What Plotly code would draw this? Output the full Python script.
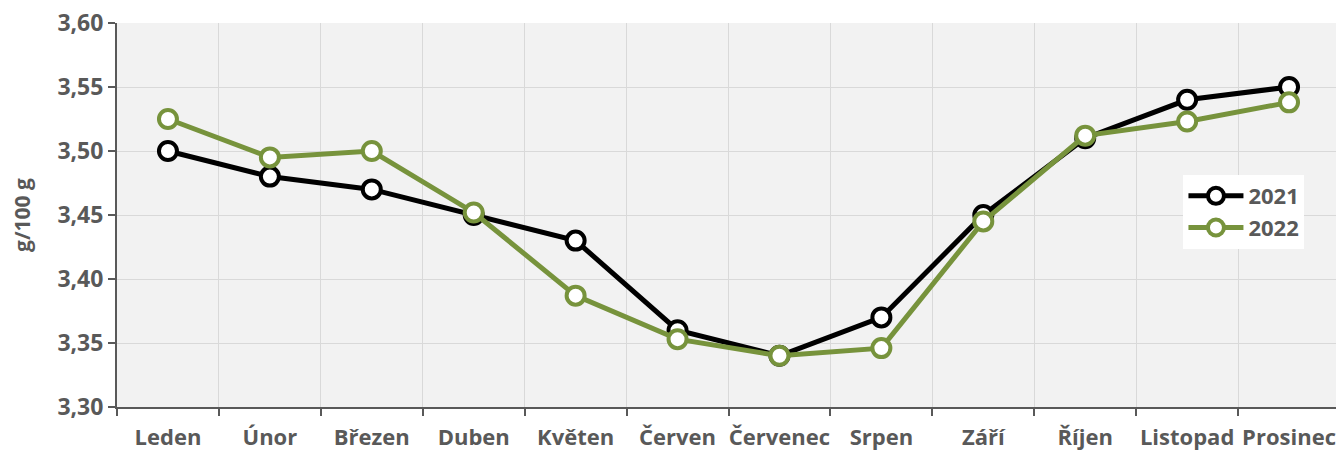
import plotly.graph_objects as go

months = ['Leden', 'Únor', 'Březen', 'Duben', 'Květen', 'Červen', 'Červenec',
          'Srpen', 'Září', 'Říjen', 'Listopad', 'Prosinec']
values_2021 = [3.50, 3.48, 3.47, 3.45, 3.43, 3.36, 3.34, 3.37, 3.45, 3.51, 3.54, 3.55]
values_2022 = [3.525, 3.495, 3.50, 3.452, 3.387, 3.353, 3.34, 3.346, 3.445, 3.512, 3.523, 3.538]
y_ticks = [3.30, 3.35, 3.40, 3.45, 3.50, 3.55, 3.60]

font_name = "Open Sans"
grey = "#595959"

fig = go.Figure()
for name, vals, col in [('2021', values_2021, 'black'), ('2022', values_2022, '#77933C')]:
    fig.add_trace(go.Scatter(
        x=months, y=vals, name=f'<b>{name}</b>', mode='lines+markers',
        line=dict(color=col, width=5),
        marker=dict(size=18, color='white', line=dict(color=col, width=4)),
    ))

# page body adds 8px offset, so margins are shifted
fig.update_layout(
    width=1344, height=453,
    margin=dict(l=109, r=12, t=15, b=54, autoexpand=False),
    paper_bgcolor='white', plot_bgcolor='#F2F2F2',
    font=dict(family=font_name, color=grey, size=23),
    legend=dict(x=0.872, y=0.604, xanchor='left', yanchor='top',
                bgcolor='white', font=dict(size=22, color=grey, family=font_name),
                itemwidth=55, tracegroupgap=4),
    showlegend=True,
)
fig.update_xaxes(
    type='category', tickson='boundaries', ticks='outside', ticklen=7,
    tickcolor=grey, tickwidth=2, showline=True, linecolor=grey, linewidth=2,
    showgrid=True, gridcolor='#D9D9D9', gridwidth=1, tickangle=0,
    ticklabeloverflow='allow', ticklabelstandoff=10,
    tickfont=dict(size=22, color=grey, family=font_name), range=[-0.5, 11.5],
    tickvals=months, ticktext=[f'<b>{m}</b>' for m in months],
)
fig.update_yaxes(
    range=[3.30, 3.60], ticks='outside', ticklen=7,
    tickcolor=grey, tickwidth=2, showline=True, linecolor=grey, linewidth=2,
    showgrid=True, gridcolor='#D9D9D9', gridwidth=1, zeroline=False,
    ticklabeloverflow='allow',
    tickfont=dict(size=23, color=grey, family=font_name),
    tickvals=y_ticks,
    ticktext=[f'<b>{v:.2f}</b>'.replace('.', ',') for v in y_ticks],
    title=dict(text='<b>g/100 g</b>', font=dict(size=21, color=grey), standoff=28),
)

fig.write_html("out.html")
